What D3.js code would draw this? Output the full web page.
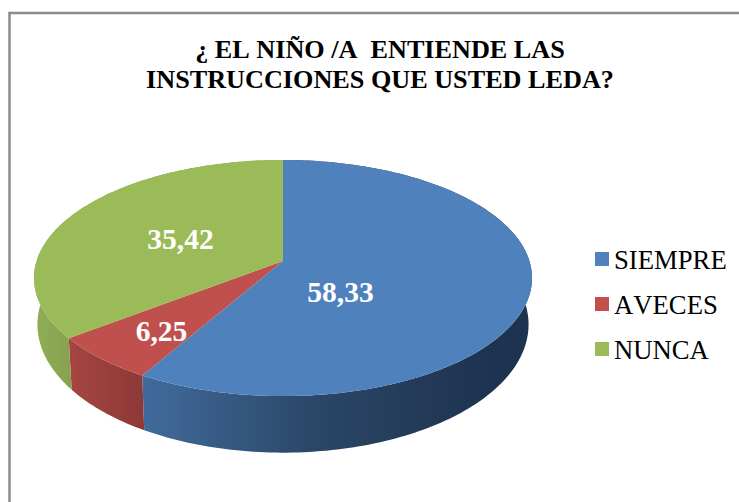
<!DOCTYPE html>
<html lang="es">
<head>
<meta charset="UTF-8">
<script src="https://d3js.org/d3.v7.min.js"></script>
<style>
    html, body { margin: 0; padding: 0; background: #fff; overflow: hidden; }
    text { font-family: "Liberation Serif", serif; white-space: pre; font-kerning: none; }
</style>
</head>
<body>
<div id="chart"></div>
<script>
var categories = ["SIEMPRE", "AVECES", "NUNCA"];
var values = [58.33, 6.25, 35.42];
var valueLabels = ["58,33", "6,25", "35,42"];
var titleLines = ["¿ EL NIÑO /A  ENTIENDE LAS", "INSTRUCCIONES QUE USTED LEDA?"];

var width = 739, height = 502;

var svg = d3.select("#chart").append("svg")
    .attr("width", width)
    .attr("height", height)
    .style("display", "block");

// Chart frame, runs off the right and bottom of the picture
svg.append("path")
    .attr("d", "M9.5," + height + "V13H" + width)
    .attr("fill", "none")
    .attr("stroke", "#8c8c8c")
    .attr("stroke-width", 2.5);

// Title
svg.append("g").selectAll("text")
    .data(titleLines)
    .enter().append("text")
        .attr("x", 380)
        .attr("y", function(d, i) { return 58 + i * 30; })
        .attr("text-anchor", "middle")
        .style("font-size", "26.2px")
        .style("font-weight", "bold")
        .style("fill", "#000")
        .text(function(d) { return d; });

var color = d3.scaleOrdinal().domain(categories).range(["#4f81bd", "#c0504d", "#9bbb59"]);

// Perspective of the tilted pie: the front edge is drawn larger than the back
var cx = 283, persp = 0.1442;
var topFace = { radius: 246.4, cy: 261, tilt: 115.6 };
var bottomFace = { radius: 243, cy: 306, tilt: 125.5 };

function project(face, angle) {
    var u = Math.sin(angle), v = -Math.cos(angle), w = 1 - persp * v;
    return [cx + face.radius * u / w, face.cy + face.tilt * v / w];
}

function edge(face, a0, a1) {
    var n = Math.max(2, Math.ceil(Math.abs(a1 - a0) / 0.02));
    return d3.range(n + 1).map(function(i) {
        return project(face, a0 + (a1 - a0) * i / n);
    });
}

var pie = d3.pie().sort(null);
var arcs = pie(values);
var line = d3.line();

// Side wall shading
var defs = svg.append("defs");
var wallStops = [
    [["0", "#416b9d"], ["0.45", "#2b4666"], ["0.9", "#1d334f"], ["1", "#1d334f"]],
    [["0", "#a74542"], ["1", "#8c3937"]],
    [["0", "#90ad56"], ["1", "#86a24e"]]
];
var wallRange = [[141, 530], [67, 144], [34, 72]];
wallStops.forEach(function(stops, i) {
    var g = defs.append("linearGradient")
        .attr("id", "wall" + i)
        .attr("gradientUnits", "userSpaceOnUse")
        .attr("x1", wallRange[i][0]).attr("x2", wallRange[i][1])
        .attr("y1", 0).attr("y2", 0);
    stops.forEach(function(s) {
        g.append("stop").attr("offset", s[0]).attr("stop-color", s[1]);
    });
});

// Walls first, the top face covers the hidden back part
svg.append("g").selectAll("path")
    .data(arcs)
    .enter().append("path")
        .attr("d", function(d) {
            var pts = edge(topFace, d.startAngle, d.endAngle)
                .concat(edge(bottomFace, d.endAngle, d.startAngle));
            return line(pts) + "Z";
        })
        .attr("fill", function(d, i) { return "url(#wall" + i + ")"; });

// Top face
svg.append("g").selectAll("path")
    .data(arcs)
    .enter().append("path")
        .attr("d", function(d) {
            return line([[cx, topFace.cy]].concat(edge(topFace, d.startAngle, d.endAngle))) + "Z";
        })
        .attr("fill", function(d, i) { return color(categories[i]); });

// Value labels
var labelPos = [[340.5, 302], [161.5, 341], [180.5, 249]];
svg.append("g").selectAll("text")
    .data(valueLabels)
    .enter().append("text")
        .attr("x", function(d, i) { return labelPos[i][0]; })
        .attr("y", function(d, i) { return labelPos[i][1]; })
        .attr("text-anchor", "middle")
        .style("font-size", "29.5px")
        .style("font-weight", "bold")
        .style("fill", "#fff")
        .text(function(d) { return d; });

// Legend
var legendY = d3.scalePoint().domain(categories).range([259, 349]);
var legend = svg.append("g").selectAll("g")
    .data(categories)
    .enter().append("g")
        .attr("transform", function(d) { return "translate(595," + legendY(d) + ")"; });

legend.append("rect")
    .attr("y", -7)
    .attr("width", 14)
    .attr("height", 14)
    .attr("fill", function(d) { return color(d); });

legend.append("text")
    .attr("x", 19)
    .attr("y", 9.5)
    .style("font-size", "26.7px")
    .style("fill", "#000")
    .text(function(d) { return d; });
</script>
</body>
</html>
